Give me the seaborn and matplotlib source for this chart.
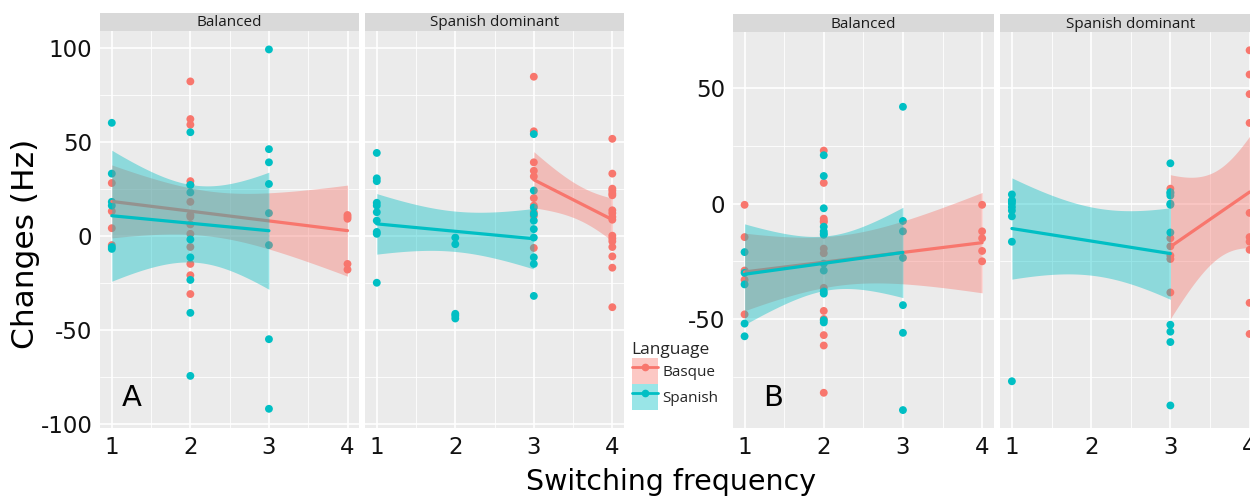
import numpy as np
import pandas as pd
import matplotlib
matplotlib.use("Agg")
import matplotlib.pyplot as plt
import seaborn as sns
from matplotlib.patches import Patch
from matplotlib.lines import Line2D

LANGUAGES = ["Basque", "Spanish"]
PROFILES = ["Balanced", "Spanish dominant"]
PALETTE = {"Basque": "#F8766D", "Spanish": "#00BFC4"}
FREQ_TICKS = [1, 2, 3, 4]

# Panel A -- pitch changes (Hz) keyed by switching frequency
a_bal_basque = {1: [28, 13, 4, -5],
                2: [82, 62, 59, 29, 27, 18, 11, 10, 6, 1, -6, -15, -21, -31],
                4: [11, 10, 9, -15, -18]}
a_bal_spanish = {1: [60, 33, 18, 16, -6, -7],
                 2: [55, 27, 23, -2, -11.5, -23.5, -41, -74.5],
                 3: [99, 46, 39, 27.5, 12, -5, -55, -92]}
a_dom_basque = {3: [84.5, 55.5, 39, 34.5, 31.5, 20, 16, 12.5, 10.5, -6.5],
                4: [51.5, 33, 25, 24, 22.5, 21.5, 13.5, 12, 10, 8.5, 0,
                    -1.5, -3, -6, -11, -17, -38]}
a_dom_spanish = {1: [44, 30.5, 29, 17.5, 16, 12.5, 8, 2, 1, -25],
                 2: [-1, -4.5, -41.5, -42.5, -44],
                 3: [54, 24, 15, 11.5, 8, 3.5, -1, -11.5, -15, -32]}

# Panel B -- pitch changes (Hz) keyed by switching frequency
b_bal_basque = {1: [-0.5, -14.5, -29, -33, -48],
                2: [23, 9, -6.5, -7.5, -8, -19.5, -21.5, -36.5, -46.5, -50,
                    -57, -61.5, -82],
                4: [-0.5, -12, -15, -20.5, -25]}
b_bal_spanish = {1: [-21, -30, -35, -52, -57.5],
                 2: [21, 12, -2, -10, -12, -13, -13.5, -26, -29, -38, -39,
                     -50.5, -51.5],
                 3: [42, -7.5, -12, -23.5, -44, -56, -89.5]}
b_dom_basque = {3: [6.5, -15, -18.5, -22.5, -24, -38.5],
                4: [66.5, 56, 47.5, 35, -4, -14.5, -16.5, -20, -43, -56.5]}
b_dom_spanish = {1: [4, 1.5, 1, 0, -1.5, -3, -5.5, -16.5, -77],
                 3: [17.5, 5, 4.5, 3.5, 0, -0.5, -12.5, -52.5, -55.5, -60,
                     -87.5]}

A_YTICKS = [-100, -50, 0, 50, 100]
B_YTICKS = [-50, 0, 50]


def long_frame(basque, spanish):
    rows = []
    for lang, groups in (("Basque", basque), ("Spanish", spanish)):
        for freq, vals in groups.items():
            for v in vals:
                rows.append({"freq": freq, "hz": v, "Language": lang})
    return pd.DataFrame(rows)


def t_quantile(dof, z=1.959964):
    # Cornish-Fisher expansion of the two-sided 95% Student t quantile
    g1 = (z ** 3 + z) / 4
    g2 = (5 * z ** 5 + 16 * z ** 3 + 3 * z) / 96
    g3 = (3 * z ** 7 + 19 * z ** 5 + 17 * z ** 3 - 15 * z) / 384
    return z + g1 / dof + g2 / dof ** 2 + g3 / dof ** 3


def linear_fit(x, y, n_grid=80):
    """OLS fit with a 95% confidence band for the mean."""
    x = np.asarray(x, float)
    y = np.asarray(y, float)
    n = len(x)
    xm = x.mean()
    sxx = ((x - xm) ** 2).sum()
    slope = ((x - xm) * (y - y.mean())).sum() / sxx
    icpt = y.mean() - slope * xm
    resid = y - (icpt + slope * x)
    s2 = (resid ** 2).sum() / (n - 2)
    grid = np.linspace(x.min(), x.max(), n_grid)
    fit = icpt + slope * grid
    se = np.sqrt(s2 * (1 / n + (grid - xm) ** 2 / sxx))
    t = t_quantile(n - 2)
    return grid, fit, fit - t * se, fit + t * se


sns.set_theme(style="darkgrid")
plt.rcParams["font.family"] = ["DejaVu Sans"]
plt.rcParams["axes.unicode_minus"] = False
SMALL_FONT = ["Open Sans", "DejaVu Sans"]

W, H = 1250, 500
fig = plt.figure(figsize=(W / 100, H / 100), dpi=100)


def px_rect(left, top, right, bottom):
    return [left / W, 1 - bottom / H, (right - left) / W, (bottom - top) / H]


def draw_facet(rect, df, ylim, yticks, show_y):
    ax = fig.add_axes(rect)
    ax.set_facecolor("#EBEBEB")
    for s in ax.spines.values():
        s.set_visible(False)
    sns.scatterplot(data=df, x="freq", y="hz", hue="Language",
                    hue_order=LANGUAGES, palette=PALETTE, s=32,
                    linewidth=0, legend=False, ax=ax, zorder=3)
    z = 4
    for lang in LANGUAGES:
        sub = df[df["Language"] == lang]
        grid, fit, lo, hi = linear_fit(sub["freq"], sub["hz"])
        ax.fill_between(grid, lo, hi, color=PALETTE[lang], alpha=0.4,
                        linewidth=0, zorder=z)
        sns.lineplot(x=grid, y=fit, color=PALETTE[lang], linewidth=2.3,
                     ax=ax, zorder=z + 0.5)
        z += 1
    ax.set_xlim(0.85, 4.15)
    ax.set_ylim(*ylim)
    ax.set_xticks(FREQ_TICKS)
    ax.set_xticks([1.5, 2.5, 3.5], minor=True)
    ax.set_yticks(yticks)
    step = yticks[1] - yticks[0]
    minors = [t + step / 2 for t in [yticks[0] - step] + yticks]
    ax.set_yticks([m for m in minors if ylim[0] < m < ylim[1]], minor=True)
    ax.grid(which="major", color="white", lw=1.2)
    ax.grid(which="minor", color="white", lw=0.6)
    ax.set_axisbelow(True)
    ax.set_xlabel("")
    ax.set_ylabel("")
    ax.tick_params(which="major", length=3.5, width=1, color="#444444",
                   labelsize=16.5, labelcolor="#111111", pad=2)
    ax.tick_params(which="minor", length=0)
    if not show_y:
        ax.tick_params(axis="y", left=False, labelleft=False)
    return ax


def add_strip(rect, text):
    sax = fig.add_axes(rect)
    sax.set_facecolor("#D9D9D9")
    sax.set_xticks([])
    sax.set_yticks([])
    sax.grid(False)
    for s in sax.spines.values():
        s.set_visible(False)
    sax.text(0.5, 0.45, text, ha="center", va="center", fontsize=11,
             family=SMALL_FONT, color="#1A1A1A", transform=sax.transAxes)


A_YLIM = (-102.2, 108.8)
B_YLIM = (-97.4, 74.3)

a_frames = [long_frame(a_bal_basque, a_bal_spanish),
            long_frame(a_dom_basque, a_dom_spanish)]
b_frames = [long_frame(b_bal_basque, b_bal_spanish),
            long_frame(b_dom_basque, b_dom_spanish)]

a_cols = [(100, 359.3), (365, 624.1)]
b_cols = [(732.7, 994), (1000, 1261.5)]

for i, (l, r) in enumerate(a_cols):
    ax = draw_facet(px_rect(l, 31, r, 428), a_frames[i], A_YLIM, A_YTICKS, i == 0)
    add_strip(px_rect(l, 12.7, r, 31), PROFILES[i])
    if i == 0:
        ax.text(132 / W, 1 - 398 / H, "A", transform=fig.transFigure,
                ha="center", va="center", fontsize=21, color="black")

for i, (l, r) in enumerate(b_cols):
    ax = draw_facet(px_rect(l, 32.3, r, 428.3), b_frames[i], B_YLIM, B_YTICKS, i == 0)
    add_strip(px_rect(l, 14, r, 32.3), PROFILES[i])
    if i == 0:
        ax.text(773 / W, 1 - 398 / H, "B", transform=fig.transFigure,
                ha="center", va="center", fontsize=21, color="black")

fig.text(26 / W, 1 - 244 / H, "Changes (Hz)", rotation=90, ha="center",
         va="center", fontsize=22.5, color="black")
fig.text(671 / W, 1 - 482 / H, "Switching frequency", ha="center",
         va="center", fontsize=20.5, color="black")

handles = []
for lang in LANGUAGES:
    c = PALETTE[lang]
    handles.append((Patch(facecolor=c, alpha=0.4, edgecolor="none"),
                    Line2D([], [], color=c, lw=2, marker="o", markersize=4.5)))
leg = fig.legend(handles, LANGUAGES, title="Language", loc="upper left",
                 bbox_to_anchor=(630 / W, 1 - 340 / H), frameon=True,
                 prop={"family": SMALL_FONT, "size": 11},
                 title_fontproperties={"family": SMALL_FONT, "size": 12.5},
                 handlelength=1.7, handleheight=2.25, labelspacing=0.02,
                 handletextpad=0.3, borderpad=0.1, borderaxespad=0)
leg.get_frame().set_facecolor("white")
leg.get_frame().set_edgecolor("none")
leg._legend_box.align = "left"

fig.savefig("out.png", dpi=100)
